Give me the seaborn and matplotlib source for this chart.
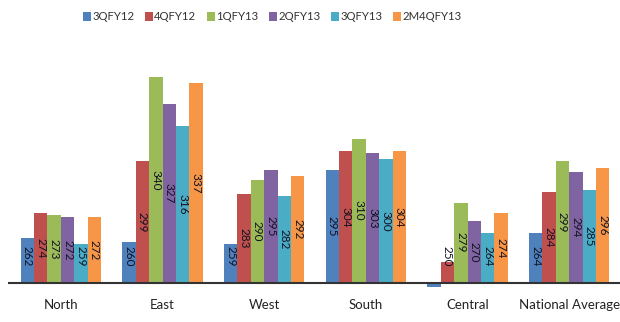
import matplotlib
matplotlib.use("Agg")
import matplotlib.pyplot as plt
import seaborn as sns
import pandas as pd
import numpy as np

regions = ["North", "East", "West", "South", "Central", "National Average"]
series = ["3QFY12", "4QFY12", "1QFY13", "2QFY13", "3QFY13", "2M4QFY13"]
colors = ["#4F81BD", "#C0504D", "#9BBB59", "#8064A2", "#4BACC6", "#F79646"]

v_3QFY12 = [262, 260, 259, 295, 238, 264]
v_4QFY12 = [274, 299, 283, 304, 250, 284]
v_1QFY13 = [273, 340, 290, 310, 279, 299]
v_2QFY13 = [272, 327, 295, 303, 270, 294]
v_3QFY13 = [259, 316, 282, 300, 264, 285]
v_2M4QFY13 = [272, 337, 292, 304, 274, 296]
values = [v_3QFY12, v_4QFY12, v_1QFY13, v_2QFY13, v_3QFY13, v_2M4QFY13]
axis_min = 240

rows = []
for s, vals in zip(series, values):
    for r, v in zip(regions, vals):
        rows.append({"region": r, "series": s, "value": v, "h": v - axis_min})
df = pd.DataFrame(rows)

sns.set_style("white")
plt.rcParams["font.family"] = ["Lato", "DejaVu Sans"]

fig = plt.figure(figsize=(6.2, 3.22), dpi=100)
ax = fig.add_axes([8 / 620, 0.1056, 1 - 8 / 620, 0.812 - 0.1056])

sns.barplot(data=df, x="region", y="h", hue="series", order=regions,
            hue_order=series, palette=colors, width=0.79, gap=0,
            saturation=1, ax=ax, legend=True, errorbar=None, linewidth=0)

ax.set_xlim(-0.52, 5.5)
ax.set_ylim(-2.5, 108)
ax.axhline(0, color="#333333", lw=1.5, zorder=5)
for sp in ax.spines.values():
    sp.set_visible(False)
ax.set_yticks([])
ax.set_xlabel("")
ax.set_ylabel("")
ax.tick_params(axis="x", length=0, pad=8, labelsize=9.5, labelcolor="#222222")

# value labels
for cont, s, vals in zip(ax.containers, series, values):
    for bar, v in zip(cont, vals):
        if v < axis_min:
            continue
        xc = bar.get_x() + bar.get_width() / 2
        yc = max((v - axis_min) / 2, 13)
        ax.text(xc, yc, str(v), rotation=270, ha="center", va="center",
                fontsize=8.5, color="#111122")

handles, labels = ax.get_legend_handles_labels()
ax.get_legend().remove()
fig.legend(handles, labels, loc="center", bbox_to_anchor=(272 / 620, 1 - 17 / 322),
           ncol=6, frameon=False, fontsize=8.2, handlelength=0.75, handleheight=0.75,
           handletextpad=0.1, columnspacing=0.9, labelcolor="#333333")

fig.savefig("out.png", dpi=100)
